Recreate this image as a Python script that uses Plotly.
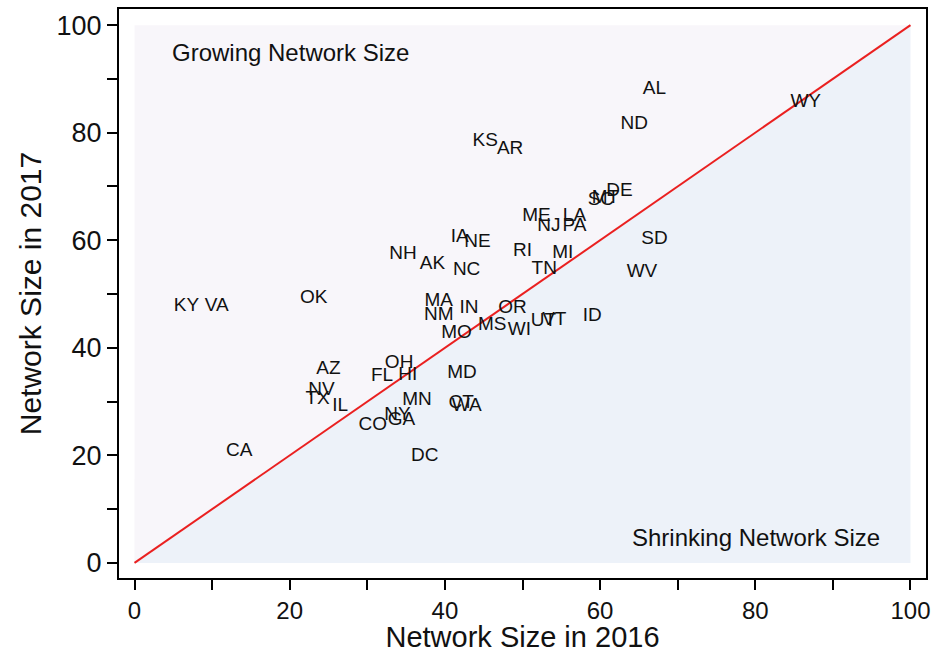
import plotly.graph_objects as go

# State labels and network sizes (2016, 2017)
states = ["AL", "WY", "ND", "KS", "AR", "DE", "SC", "MT", "ME", "LA", "NJ", "PA",
          "SD", "RI", "MI", "TN", "WV", "IA", "NE", "NH", "AK", "NC", "KY", "VA",
          "OK", "MA", "NM", "IN", "OR", "MS", "MO", "WI", "UT", "VT", "ID", "AZ",
          "OH", "FL", "HI", "MD", "NV", "TX", "IL", "MN", "CT", "WA", "NY", "GA",
          "CO", "CA", "DC"]
size_2016 = [67.0, 86.5, 64.4, 45.2, 48.4, 62.5, 60.1, 60.7, 51.8, 56.7, 53.4, 56.7,
             67.0, 50.0, 55.2, 52.8, 65.4, 41.9, 44.2, 34.6, 38.4, 42.8, 6.7, 10.6,
             23.1, 39.2, 39.2, 43.1, 48.7, 46.1, 41.5, 49.6, 52.7, 54.1, 59.0, 25.0,
             34.1, 31.9, 35.2, 42.2, 24.1, 23.6, 26.5, 36.4, 42.1, 42.8, 33.9, 34.4,
             30.7, 13.5, 37.4]
size_2017 = [88.1, 85.6, 81.6, 78.4, 76.9, 69.2, 67.5, 67.8, 64.5, 64.5, 62.6, 62.6,
             60.1, 57.9, 57.5, 54.7, 54.0, 60.6, 59.6, 57.4, 55.6, 54.4, 47.7, 47.7,
             49.2, 48.6, 46.0, 47.3, 47.3, 44.2, 42.7, 43.2, 45.0, 45.2, 45.9, 36.1,
             37.1, 34.7, 34.9, 35.3, 32.1, 30.5, 29.2, 30.3, 29.7, 29.2, 27.5, 26.6,
             25.6, 20.8, 19.9]

diag = [0, 100]
major_ticks = [0, 20, 40, 60, 80, 100]
x_title = "Network Size in 2016"
y_title = "Network Size in 2017"

FONT = "Liberation Sans, Arial, sans-serif"
INK = "#111111"

fig = go.Figure()

# Shaded regions
fig.add_shape(type="path", path=f"M {diag[0]},{diag[0]} L {diag[0]},{diag[1]} L {diag[1]},{diag[1]} Z",
              fillcolor="#f8f6fa", line=dict(width=0), layer="below")
fig.add_shape(type="path", path=f"M {diag[0]},{diag[0]} L {diag[1]},{diag[0]} L {diag[1]},{diag[1]} Z",
              fillcolor="#edf2f9", line=dict(width=0), layer="below")

fig.add_trace(go.Scatter(x=diag, y=diag, mode="lines",
                         line=dict(color="#ea2020", width=2), hoverinfo="skip",
                         showlegend=False))

fig.add_trace(go.Scatter(x=size_2016, y=size_2017, mode="text", text=states,
                         textposition="middle center",
                         textfont=dict(family=FONT, size=19, color=INK),
                         showlegend=False))

fig.add_annotation(x=4.6, y=95.0, text="Growing Network Size", showarrow=False,
                   xanchor="left", yanchor="middle",
                   font=dict(family=FONT, size=24, color=INK))
fig.add_annotation(x=96.3, y=4.8, text="Shrinking Network Size", showarrow=False,
                   xanchor="right", yanchor="middle",
                   font=dict(family=FONT, size=24, color=INK))

axis_common = dict(
    showgrid=False, zeroline=False, showline=True, mirror=True,
    linecolor="black", linewidth=2,
    ticks="outside", ticklen=10, tickwidth=1.5, tickcolor="black",
    tickvals=major_ticks,
    minor=dict(dtick=10, ticks="outside", ticklen=10, tickwidth=1.5, tickcolor="black", showgrid=False),
)

fig.update_xaxes(range=[-2, 102],
                 tickfont=dict(family=FONT, size=24, color=INK),
                 title=dict(text=x_title, font=dict(family=FONT, size=29, color=INK), standoff=2),
                 **axis_common)
fig.update_yaxes(range=[-2.8, 103],
                 tickfont=dict(family=FONT, size=27, color=INK),
                 title=dict(text=y_title, font=dict(family=FONT, size=30, color=INK), standoff=6),
                 **axis_common)

fig.update_layout(
    width=948, height=653,
    margin=dict(l=119, r=22, t=7, b=75),
    paper_bgcolor="white", plot_bgcolor="white",
)

fig.write_html("out.html", config={"displayModeBar": False},
               post_script="document.body.style.margin='0px';document.body.style.overflow='hidden';")
